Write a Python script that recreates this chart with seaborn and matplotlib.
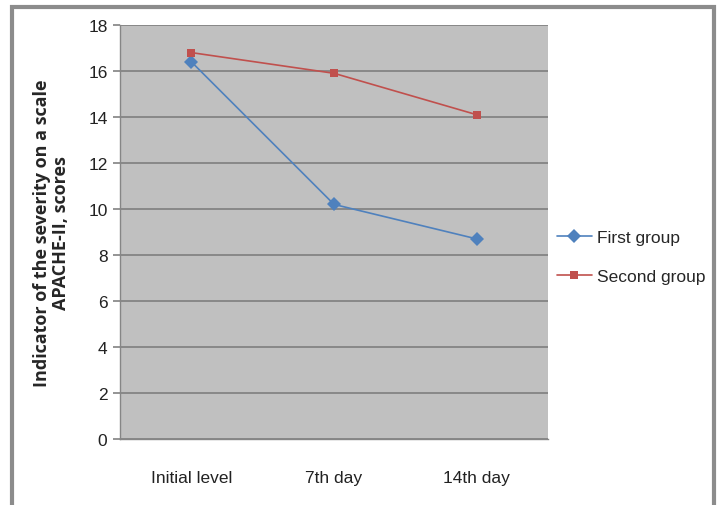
import matplotlib
matplotlib.use("Agg")
import matplotlib.pyplot as plt
from matplotlib.patches import Rectangle
import seaborn as sns
import pandas as pd

categories = ["Initial level", "7th day", "14th day"]
first_group = [16.4, 10.2, 8.7]
second_group = [16.8, 15.9, 14.1]
y_ticks = [0, 2, 4, 6, 8, 10, 12, 14, 16, 18]

df = pd.DataFrame({
    "period": categories * 2,
    "score": first_group + second_group,
    "group": ["First group"] * 3 + ["Second group"] * 3,
})

sns.set_theme(style="white")
plt.rcParams["font.family"] = ["Liberation Sans", "DejaVu Sans"]

W, H = 719, 506
fig = plt.figure(figsize=(W / 100, H / 100), dpi=100)
ax = fig.add_axes([120 / W, 1 - 440 / H, 428 / W, 414 / H])

palette = {"First group": "#4F81BD", "Second group": "#C0504D"}
markers = {"First group": "D", "Second group": "s"}
sns.lineplot(data=df, x="period", y="score", hue="group", style="group",
             palette=palette, markers=markers, dashes=False, markersize=6,
             linewidth=1.2, sort=False, ax=ax, markeredgewidth=0)

# diamonds drawn slightly larger than squares
for line in ax.get_lines():
    if line.get_marker() == "D":
        line.set_markersize(7)

ax.set_facecolor("#C0C0C0")
ax.set_xlim(-0.5, 2.5)
ax.set_ylim(0, 18)
ax.set_yticks(y_ticks)
ax.yaxis.grid(True, color="#7F7F7F", linewidth=1.2)
ax.set_axisbelow(True)
for s in ["top", "right"]:
    ax.spines[s].set_visible(False)
for s in ["left", "bottom"]:
    ax.spines[s].set_color("#868686")
    ax.spines[s].set_linewidth(1.0)

ax.set_xticks(range(len(categories)))
ax.set_xticklabels(categories)
ax.set_xticks([-0.5, 0.5, 1.5, 2.5], minor=True)
ax.tick_params(axis="x", which="major", length=0, pad=22, labelsize=12.5, labelcolor="#222222")
ax.tick_params(axis="x", which="minor", length=6, color="#868686", direction="out")
ax.tick_params(axis="y", length=5, color="#868686", direction="out", labelsize=12.5,
               labelcolor="#222222", pad=4, left=True)

ax.set_xlabel("")
ax.set_ylabel("Indicator of the severity on a scale\nAPACHE-II, scores",
              fontsize=13, fontweight="bold", family=["Open Sans", "DejaVu Sans"],
              labelpad=13, linespacing=1.05)

leg = ax.legend(loc="center left", bbox_to_anchor=(557 / W, 1 - 258 / H),
                bbox_transform=fig.transFigure, frameon=False,
                fontsize=12.5, handlelength=2.0, handletextpad=0.3,
                labelspacing=1.35, borderaxespad=0, borderpad=0)
for h in leg.legend_handles:
    if h.get_marker() == "D":
        h.set_markersize(7)

fig.patches.append(Rectangle((12 / W, -0.05), 702 / W, 1.05 - 8 / H,
                             transform=fig.transFigure, fill=False,
                             edgecolor="#8C8C8C", linewidth=3))

fig.savefig("out.png", dpi=100)
